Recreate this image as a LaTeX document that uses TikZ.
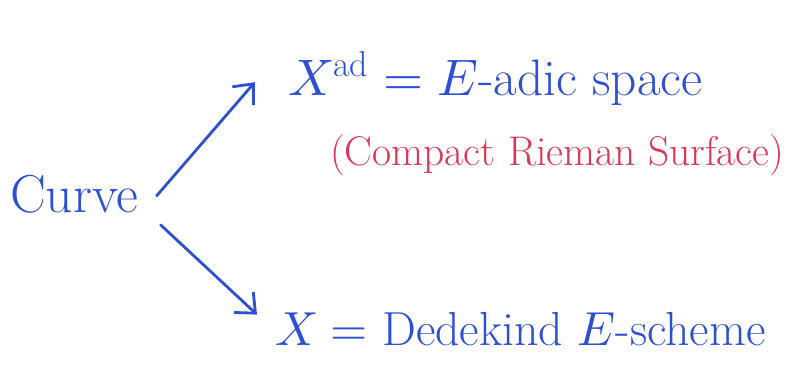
\documentclass[tikz,border=0pt]{standalone}
\usepackage{amsmath}
\usepackage{unicode-math}
\usetikzlibrary{arrows.meta, positioning}
\definecolor{inkBlue}{RGB}{45, 80, 210}
\definecolor{inkRed}{RGB}{222, 55, 85}

\tikzset{
    handtext/.style={inner sep=0pt, anchor=base west, text=inkBlue},
    handarrow/.style={-{Straight Barb[length=4mm, width=7mm]}, line width=2pt, inkBlue, line cap=round}
}

\begin{document}
\begin{tikzpicture}[x=0.025cm, y=-0.025cm]
    \useasboundingbox (0,0) rectangle (801,370);

    % Source and the two targets
    \node[handtext, font=\fontsize{38}{44}\selectfont] (curve) at (10,212) {Curve};
    \node[handtext, font=\fontsize{36.5}{42}\selectfont] (adic) at (288,95)
        {$X^{\mathrm{ad}} = E$-adic space};
    \node[handtext, text=inkRed, font=\fontsize{29.5}{34}\selectfont] (riemann) at (330,165)
        {(Compact Rieman Surface)};
    \node[handtext, font=\fontsize{34}{40}\selectfont] (scheme) at (275,345)
        {$X = $ Dedekind $E$-scheme};

    % Arrows out of the curve
    \draw[handarrow] ([xshift=0.45cm, yshift=-0.05cm]curve.east) -- ([xshift=-0.83cm, yshift=-0.1cm]adic.west);
    \draw[handarrow] ([xshift=0.55cm, yshift=-0.78cm]curve.east) -- ([xshift=-0.45cm, yshift=0.35cm]scheme.west);
\end{tikzpicture}
\end{document}
